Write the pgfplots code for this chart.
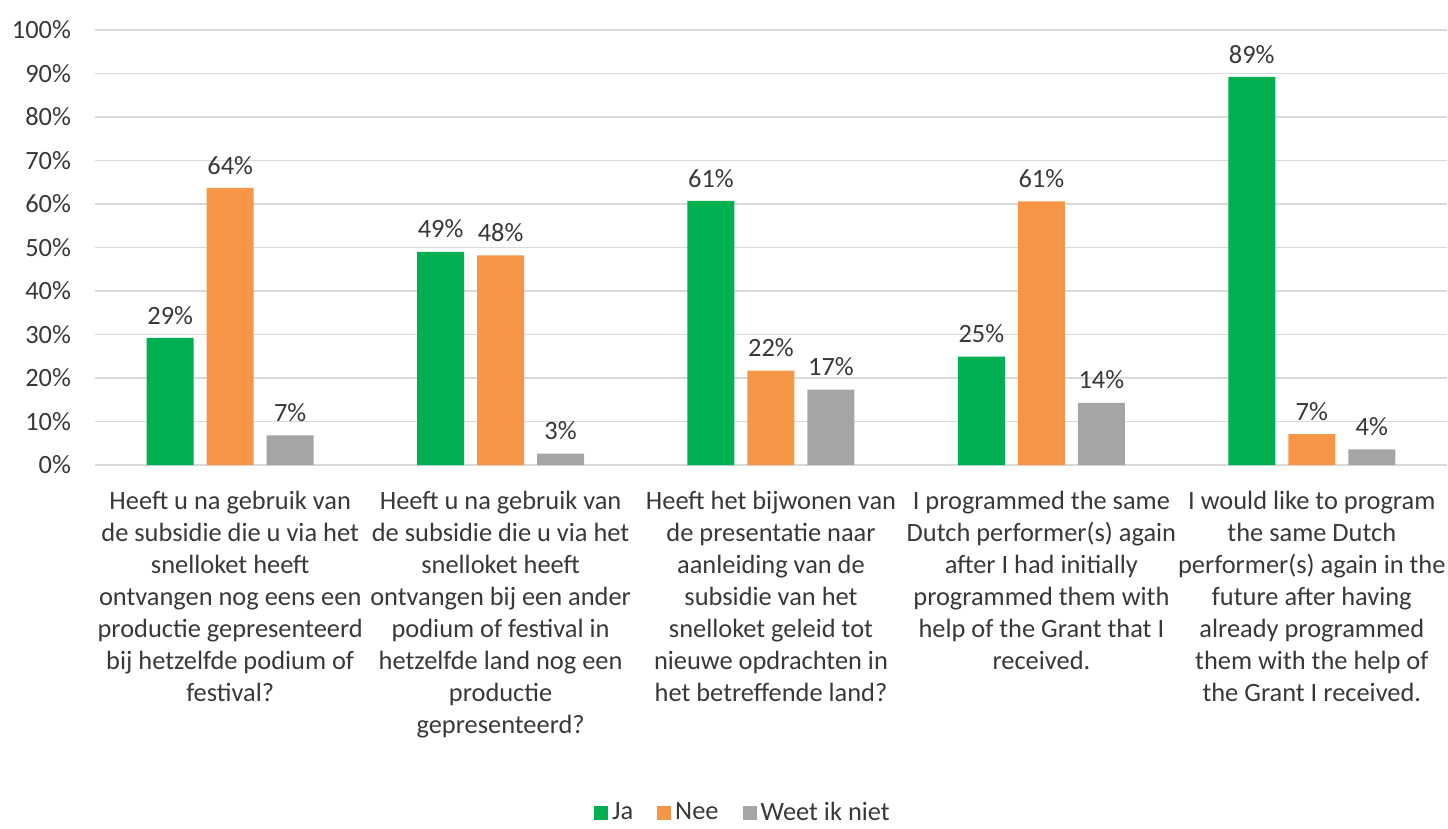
\documentclass[border=0pt]{standalone}
\usepackage{fontspec}
\setmainfont{Carlito}
\usepackage{pgfplots}
\pgfplotsset{compat=1.18}
\definecolor{jagreen}{HTML}{00B050}
\definecolor{neeorange}{HTML}{F79646}
\definecolor{weetgray}{HTML}{A5A5A5}
\definecolor{gridgray}{HTML}{D9D9D9}
\definecolor{txt}{HTML}{383838}

\begin{document}
\begin{tikzpicture}
\begin{axis}[
    at={(0,0)}, anchor=south west,
    scale only axis,
    width=676pt, height=217.5pt,
    ybar=6.5pt, bar width=23.5pt,
    ymin=0, ymax=100,
    xmin=-0.5, xmax=4.5,
    ytick={0,10,...,100},
    xtick={0,1,2,3,4},
    xticklabels={
      {Heeft u na gebruik van\\de subsidie die u via het\\snelloket heeft\\ontvangen nog eens een\\productie gepresenteerd\\bij hetzelfde podium of\\festival?},
      {Heeft u na gebruik van\\de subsidie die u via het\\snelloket heeft\\ontvangen bij een ander\\podium of festival in\\hetzelfde land nog een\\productie\\gepresenteerd?},
      {Heeft het bijwonen van\\de presentatie naar\\aanleiding van de\\subsidie van het\\snelloket geleid tot\\nieuwe opdrachten in\\het betreffende land?},
      {I programmed the same\\Dutch performer(s) again\\after I had initially\\programmed them with\\help of the Grant that I\\received.},
      {I would like to program\\the same Dutch\\performer(s) again in the\\future after having\\already programmed\\them with the help of\\the Grant I received.}},
    xticklabel style={align=center, font=\fontsize{13.2}{16}\selectfont, text=txt, yshift=-9.5pt},
    yticklabel={\pgfmathprintnumber{\tick}\%},
    yticklabel style={font=\fontsize{13.2}{15}\selectfont, text=txt, xshift=-8.5pt},
    /pgf/number format/assume math mode=true,
    major tick length=0pt,
    axis line style={draw=none},
    ymajorgrids, grid style={gridgray, line width=0.75pt},
    nodes near coords={\pgfmathprintnumber[fixed,precision=0]{\pgfplotspointmeta}\%},
    nodes near coords style={font=\fontsize{13.2}{15}\selectfont, text=txt, yshift=3.3pt},
    legend style={at={(0.48,-0.80)}, anchor=center, draw=none, fill=none,
      legend columns=3, font=\fontsize{13.2}{15}\selectfont, text=txt,
      /tikz/every even column/.append style={column sep=10pt}},
    legend image code/.code={\fill[#1] (0pt,-3.5pt) rectangle (7pt,3.5pt);},
]
\addplot[fill=jagreen, draw=none] coordinates {
    (0,29.2) (1,49.0) (2,60.7) (3,24.9) (4,89.2)};
\addplot[fill=neeorange, draw=none] coordinates {
    (0,63.7) (1,48.2) (2,21.7) (3,60.6) (4,7.1)};
\addplot[fill=weetgray, draw=none] coordinates {
    (0,6.8) (1,2.6) (2,17.3) (3,14.3) (4,3.6)};
\legend{Ja, Nee, Weet ik niet}
\end{axis}
\pgfresetboundingbox
\path[use as bounding box] (-47.5pt,-182pt) rectangle (676.5pt,232.5pt);
\end{tikzpicture}
\end{document}
